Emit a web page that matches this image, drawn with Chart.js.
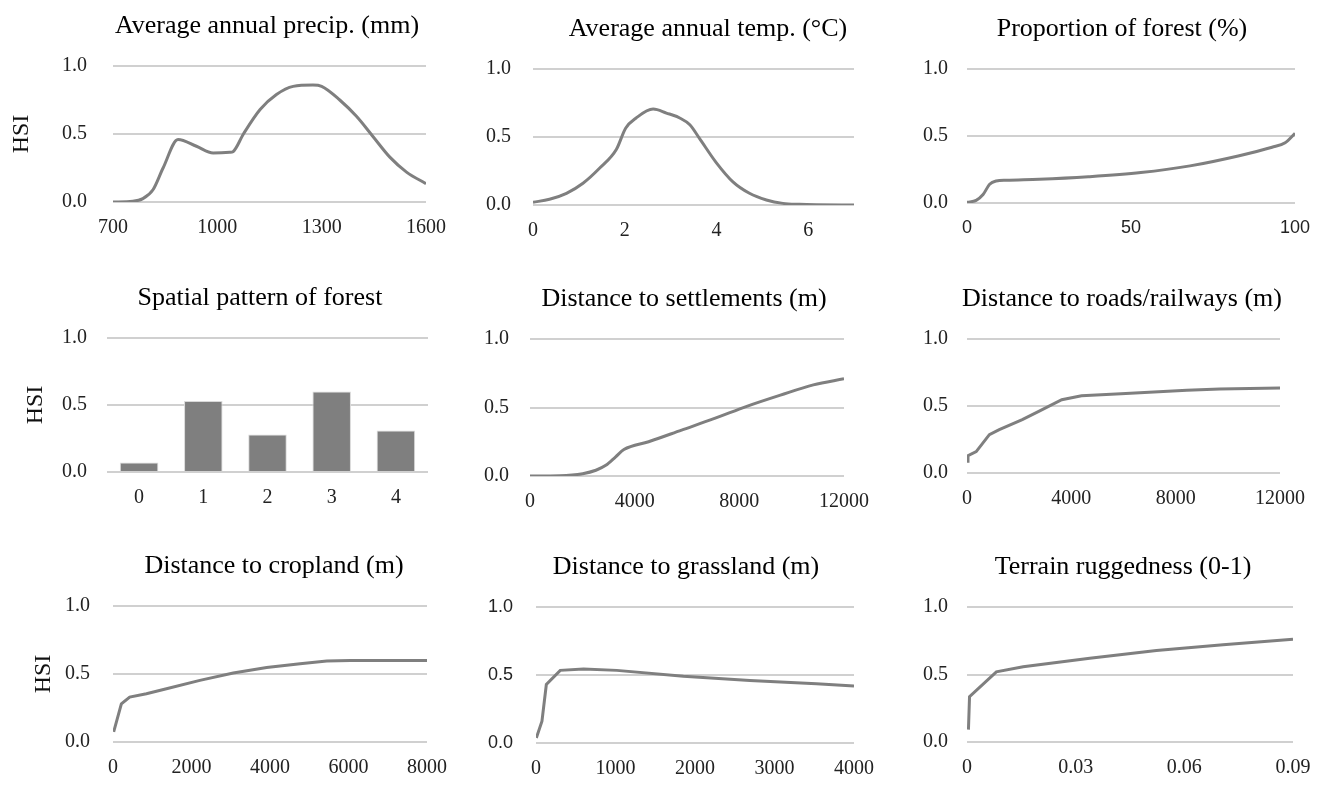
<!DOCTYPE html>
<html>
<head>
<meta charset="utf-8">
<script src="https://cdn.jsdelivr.net/npm/chart.js@4.4.0/dist/chart.umd.min.js"></script>
<style>
  html, body { margin: 0; padding: 0; background: #fff; width: 1334px; height: 785px; overflow: hidden; }
  canvas { position: absolute; }
</style>
</head>
<body>
<canvas id="c1"></canvas><canvas id="c2"></canvas><canvas id="c3"></canvas>
<canvas id="c4"></canvas><canvas id="c5"></canvas><canvas id="c6"></canvas>
<canvas id="c7"></canvas><canvas id="c8"></canvas><canvas id="c9"></canvas>
<script>
// values
const hsiTicks = [0, 0.5, 1.0];

const precipX = [700, 757, 786, 815, 844, 887, 940, 988, 1036, 1045, 1075, 1123, 1170, 1218, 1275, 1300, 1352, 1400, 1448, 1496, 1544, 1600];
const precipY = [0, 0.005, 0.025, 0.09, 0.25, 0.46, 0.41, 0.36, 0.365, 0.37, 0.5, 0.68, 0.79, 0.85, 0.86, 0.85, 0.75, 0.63, 0.48, 0.33, 0.22, 0.135];
const precipTicks = [700, 1000, 1300, 1600];

const tempX = [0, 0.36, 0.73, 1.09, 1.45, 1.82, 2.02, 2.25, 2.62, 2.91, 3.2, 3.42, 3.63, 4.0, 4.36, 4.72, 5.09, 5.45, 5.81, 6.18, 7];
const tempY = [0.02, 0.042, 0.086, 0.16, 0.27, 0.41, 0.565, 0.64, 0.705, 0.676, 0.64, 0.59, 0.49, 0.31, 0.17, 0.086, 0.037, 0.012, 0.005, 0.002, 0];
const tempTicks = [0, 2, 4, 6];

const forestX = [0, 2.8, 4.9, 6.9, 8.9, 12, 22, 37, 53, 68, 83, 93, 97, 100];
const forestY = [0.005, 0.02, 0.063, 0.14, 0.164, 0.17, 0.177, 0.196, 0.227, 0.277, 0.353, 0.416, 0.45, 0.52];
const forestTicks = [0, 50, 100];

const patternCats = ["0", "1", "2", "3", "4"];
const patternVals = [0.07, 0.53, 0.28, 0.60, 0.31];

const settleX = [0, 1133, 2015, 2518, 2896, 3274, 3589, 4533, 5793, 7052, 8311, 9570, 10829, 12000];
const settleY = [0, 0.002, 0.017, 0.042, 0.078, 0.14, 0.193, 0.25, 0.335, 0.42, 0.51, 0.59, 0.665, 0.71];
const settleTicks = [0, 4000, 8000, 12000];

const roadX = [0, 38, 353, 858, 1237, 2120, 2751, 3634, 4391, 5905, 8429, 9691, 12000];
const roadY = [0.087, 0.13, 0.16, 0.286, 0.323, 0.398, 0.46, 0.547, 0.577, 0.592, 0.617, 0.627, 0.634];
const roadTicks = [0, 4000, 8000, 12000];

const cropX = [17, 213, 425, 851, 1362, 2213, 3064, 3915, 4766, 5447, 6043, 8000];
const cropY = [0.074, 0.28, 0.33, 0.355, 0.392, 0.453, 0.507, 0.547, 0.576, 0.596, 0.6, 0.6];
const cropTicks = [0, 2000, 4000, 6000, 8000];

const grassX = [4, 75, 130, 305, 598, 1017, 1854, 2690, 3527, 4000];
const grassY = [0.037, 0.16, 0.43, 0.534, 0.544, 0.534, 0.49, 0.46, 0.436, 0.42];
const grassTicks = [0, 1000, 2000, 3000, 4000];

const ruggedX = [0.0004, 0.0007, 0.0081, 0.0155, 0.0339, 0.0523, 0.0707, 0.09];
const ruggedY = [0.092, 0.335, 0.52, 0.558, 0.62, 0.677, 0.72, 0.762];
const ruggedTicks = [0, 0.03, 0.06, 0.09];

const titles = [
  "Average annual precip. (mm)", "Average annual temp. (\u00B0C)", "Proportion of forest (%)",
  "Spatial pattern of forest", "Distance to settlements (m)", "Distance to roads/railways (m)",
  "Distance to cropland (m)", "Distance to grassland (m)", "Terrain ruggedness (0-1)"
];

// page layout: plot area, canvas left, title centre, y tick gap, HSI label x
const layout = [
  { l: 113, t: 66,  r: 426,  b: 202, cl: 0,   tx: 267,  gap: 26, hsi: 22 },
  { l: 533, t: 69,  r: 854,  b: 205, cl: 455, tx: 708,  gap: 22 },
  { l: 967, t: 69,  r: 1295, b: 203, cl: 885, tx: 1122, gap: 19 },
  { l: 107, t: 338, r: 428,  b: 472, cl: 0,   tx: 260,  gap: 20, hsi: 36 },
  { l: 530, t: 339, r: 848,  b: 476, cl: 455, tx: 684,  gap: 21 },
  { l: 967, t: 339, r: 1284, b: 473, cl: 885, tx: 1122, gap: 19 },
  { l: 113, t: 606, r: 427,  b: 742, cl: 0,   tx: 274,  gap: 23, hsi: 44 },
  { l: 536, t: 607, r: 854,  b: 743, cl: 455, tx: 686,  gap: 23 },
  { l: 967, t: 607, r: 1293, b: 742, cl: 885, tx: 1123, gap: 19 }
];

const SERIF = '"Liberation Serif", "Times New Roman", serif';
const SANS = '"Liberation Sans", Arial, sans-serif';
const TOP = 60, RIGHT = 35, XH = 40;

const panelTitle = {
  id: "panelTitle",
  afterDraw(chart, args, o) {
    const ctx = chart.ctx;
    ctx.save();
    ctx.font = "26px " + SERIF;
    ctx.fillStyle = "#000";
    ctx.textAlign = "center";
    ctx.textBaseline = "alphabetic";
    ctx.fillText(o.text, o.x, chart.chartArea.top - 33);
    ctx.restore();
  }
};

function pts(xs, ys) {
  return xs.map((x, i) => ({ x: x, y: ys[i] }));
}

function build(i, type, data, xOpts, extra) {
  extra = extra || {};
  const L = layout[i];
  const cv = document.getElementById("c" + (i + 1));
  const yw = L.l - L.cl;
  cv.width = L.r - L.cl + RIGHT;
  cv.height = L.b - L.t + TOP + XH;
  cv.style.left = L.cl + "px";
  cv.style.top = (L.t - TOP) + "px";

  const yScale = {
    min: 0, max: 1,
    afterBuildTicks: s => { s.ticks = hsiTicks.map(v => ({ value: v })); },
    afterFit: s => { s.width = yw; },
    border: { display: false },
    grid: { color: "#d0d0d0", lineWidth: 2, drawTicks: false },
    ticks: {
      padding: L.gap,
      color: "#222",
      font: { family: extra.ySans ? SANS : SERIF, size: extra.ySans ? 18 : 20 },
      callback: v => Number(v).toFixed(1)
    }
  };
  if (L.hsi) {
    yScale.title = {
      display: true, text: "HSI", color: "#111",
      font: { family: SERIF, size: 24 },
      padding: { top: L.hsi - 14.4, bottom: 0 }
    };
  }

  const xScale = Object.assign({
    border: { display: false },
    grid: { display: false, drawTicks: false },
    afterFit: s => { s.height = XH; },
    ticks: {
      padding: 14,
      color: "#222",
      maxRotation: 0,
      font: { family: extra.xSans ? SANS : SERIF, size: extra.xSans ? 18 : 20 },
      callback: function (v) { return type === "bar" ? this.getLabelForValue(v) : String(v); }
    }
  }, xOpts);

  return new Chart(cv, {
    type: type,
    data: data,
    options: {
      responsive: false,
      animation: false,
      devicePixelRatio: 1,
      layout: { padding: { top: TOP, right: RIGHT, left: 0, bottom: 0 } },
      scales: { x: xScale, y: yScale },
      plugins: {
        legend: { display: false },
        tooltip: { enabled: false },
        panelTitle: { text: titles[i], x: L.tx - L.cl }
      }
    },
    plugins: [panelTitle]
  });
}

// smooth curves use monotone interpolation, the kinked ones stay straight
function lineData(xs, ys, straight) {
  const ds = {
    data: pts(xs, ys),
    borderColor: "#7f7f7f",
    borderWidth: 3,
    pointRadius: 0,
    fill: false
  };
  if (straight) ds.tension = 0;
  else ds.cubicInterpolationMode = "monotone";
  return { datasets: [ds] };
}

function linX(ticks) {
  return {
    type: "linear",
    min: ticks[0],
    max: ticks[ticks.length - 1],
    afterBuildTicks: s => { s.ticks = ticks.map(v => ({ value: v })); }
  };
}

build(0, "line", lineData(precipX, precipY), linX(precipTicks));
build(1, "line", lineData(tempX, tempY), Object.assign(linX(tempTicks), { max: 7 }));
build(2, "line", lineData(forestX, forestY), linX(forestTicks), { xSans: true });

build(3, "bar", {
  labels: patternCats,
  datasets: [{
    data: patternVals,
    backgroundColor: "#7f7f7f",
    borderColor: "#d9d9d9",
    borderWidth: 1,
    barPercentage: 0.6,
    categoryPercentage: 1.0
  }]
}, { type: "category" });

build(4, "line", lineData(settleX, settleY), linX(settleTicks));
build(5, "line", lineData(roadX, roadY, true), linX(roadTicks));
build(6, "line", lineData(cropX, cropY, true), linX(cropTicks));
build(7, "line", lineData(grassX, grassY, true), linX(grassTicks), { ySans: true });
build(8, "line", lineData(ruggedX, ruggedY, true), linX(ruggedTicks));
</script>
</body>
</html>
